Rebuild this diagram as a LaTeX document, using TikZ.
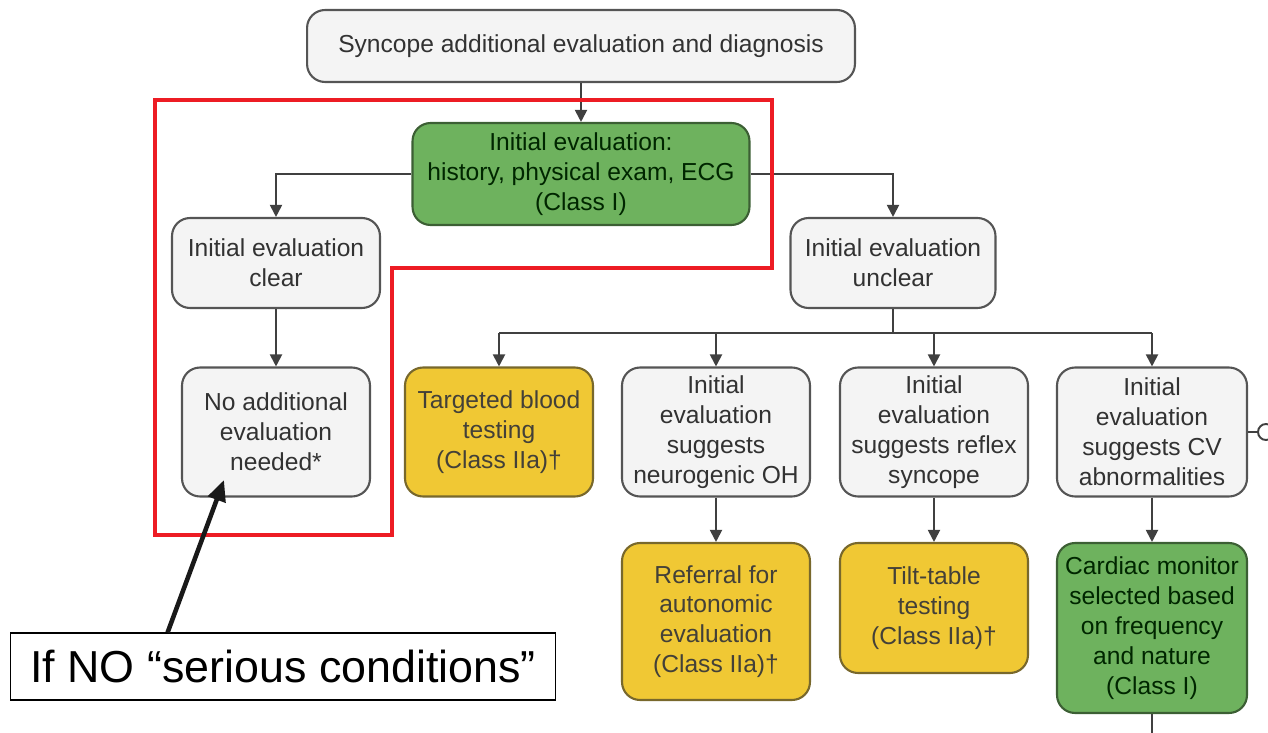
\documentclass[tikz,border=0pt]{standalone}
\usepackage{fontspec}
\setmainfont{Liberation Sans}
\usetikzlibrary{arrows.meta,calc}
\definecolor{boxfill}{RGB}{244,244,244}
\definecolor{boxline}{RGB}{85,85,85}
\definecolor{greenfill}{RGB}{110,178,94}
\definecolor{greenline}{RGB}{60,95,52}
\definecolor{yellowfill}{RGB}{240,200,52}
\definecolor{yellowline}{RGB}{120,104,44}
\definecolor{hlred}{RGB}{237,28,36}
\definecolor{txtgray}{RGB}{50,50,50}
\tikzset{
  box/.style={draw=boxline, line width=1.2pt, fill=boxfill, rounded corners=0.36cm,
    align=center, text=txtgray, inner xsep=0.1cm, font=\fontsize{14}{17}\selectfont},
  greenbox/.style={box, fill=greenfill, draw=greenline, text=black!85!green},
  yellowbox/.style={box, fill=yellowfill, draw=yellowline, text=black!85!yellow},
  arr/.style={-{Triangle[length=0.24cm,width=0.24cm]}, line width=1.1pt, draw=black!75},
  link/.style={line width=1.1pt, draw=black!75},
}
\begin{document}
\begin{tikzpicture}[x=0.02cm, y=-0.02cm]
\useasboundingbox (0,0) rectangle (1268,733);
% top and first level
\node[box, minimum width=10.96cm, minimum height=1.44cm] (top) at (581,46) {Syncope additional evaluation and diagnosis};
\node[greenbox, minimum width=6.74cm, minimum height=2.04cm] (init) at (581,174) {Initial evaluation:\\ history, physical exam, ECG\\ (Class I)};
\node[box, minimum width=4.16cm, minimum height=1.8cm] (clear) at (276,263) {Initial evaluation\\ clear};
\node[box, minimum width=4.1cm, minimum height=1.8cm] (unclear) at (893,263) {Initial evaluation\\ unclear};
\node[box, minimum width=3.76cm, minimum height=2.58cm] (noeval) at (276,432) {No additional\\ evaluation\\ needed*};
% second row
\node[yellowbox, minimum width=3.76cm, minimum height=2.58cm] (blood) at (499,432) {Targeted blood\\ testing\\ (Class IIa)†};
\node[box, minimum width=3.76cm, minimum height=2.58cm] (neuro) at (716,432) {Initial\\ evaluation\\ suggests\\ neurogenic OH};
\node[box, minimum width=3.76cm, minimum height=2.58cm] (reflex) at (934,432) {Initial\\ evaluation\\ suggests reflex\\ syncope};
\node[box, minimum width=3.8cm, minimum height=2.58cm] (cvab) at (1152,432) {Initial\\ evaluation\\ suggests CV\\ abnormalities};
% third row
\node[yellowbox, minimum width=3.76cm, minimum height=3.14cm] (referral) at (716,621.5) {Referral for\\ autonomic\\ evaluation\\ (Class IIa)†};
\node[yellowbox, minimum width=3.76cm, minimum height=2.6cm] (tilt) at (934,608) {Tilt-table\\ testing\\ (Class IIa)†};
\node[greenbox, minimum width=3.8cm, minimum height=3.4cm] (cardiac) at (1152,628) {Cardiac monitor\\ selected based\\ on frequency\\ and nature\\ (Class I)};
\node[circle, draw=black!75, line width=1.1pt, minimum size=0.32cm, inner sep=0pt] (ring) at (1266,432) {};
\coordinate (bus) at (893,333);
\coordinate (bstub) at (1152,745);
% connectors
\draw[arr] (top) -- (init);
\draw[arr] (init.west) -| (clear.north);
\draw[arr] (init.east) -| (unclear.north);
\draw[arr] (clear) -- (noeval);
\draw[link] (unclear.south) -- (bus);
\draw[link] (blood.north |- bus) -- (cvab.north |- bus);
\foreach \n in {blood,neuro,reflex,cvab}
  \draw[arr] (\n.north |- bus) -- (\n.north);
\draw[arr] (neuro) -- (referral);
\draw[arr] (reflex) -- (tilt);
\draw[arr] (cvab) -- (cardiac);
\draw[link] (cvab.east) -- (ring.west);
\draw[link] (cardiac.south) -- (bstub);
% highlight
\draw[hlred, line width=2.3pt] (155,100) -- (772,100) -- (772,268) -- (392,268) -- (392,535) -- (155,535) -- cycle;
\node[draw=black, line width=0.6pt, fill=white, minimum width=10.92cm, minimum height=1.34cm, font=\fontsize{25.5}{30}\selectfont] (note) at (283,666.5) {If NO “serious conditions”};
\coordinate (calltip) at (224,480);
\draw[-{Triangle[length=0.42cm,width=0.36cm]}, line width=2.6pt, draw=black!90] ($(note.north west)!0.289!(note.north east)$) -- (calltip);
\end{tikzpicture}
\end{document}
